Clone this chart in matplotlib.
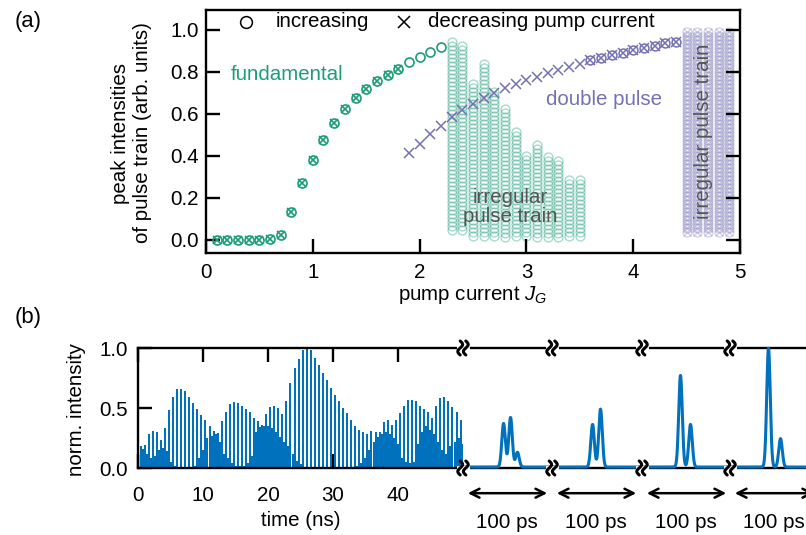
import numpy as np
import matplotlib
matplotlib.use('Agg')
import matplotlib.pyplot as plt
from matplotlib.lines import Line2D

plt.rcParams['font.family'] = ['Liberation Sans', 'DejaVu Sans']
plt.rcParams['mathtext.fontset'] = 'custom'
plt.rcParams['mathtext.it'] = 'Liberation Sans:italic'
plt.rcParams['mathtext.rm'] = 'Liberation Sans'

GREEN = '#1b9e77'
PURPLE = '#7570b3'
BLUE = '#0072BD'
GRAY = '#555555'
FS = 14.8

# ---------------- panel (a) data ----------------
fund_x = [0.1, 0.2, 0.3, 0.4, 0.5, 0.6, 0.7, 0.8, 0.9, 1.0, 1.1, 1.2, 1.3, 1.4,
          1.5, 1.6, 1.7, 1.8, 1.9, 2.0, 2.1, 2.2]
fund_inc_y = [0.0, 0.0, 0.0, 0.0, 0.0, 0.005, 0.025, 0.135, 0.27, 0.38, 0.475,
              0.555, 0.624, 0.676, 0.719, 0.757, 0.786, 0.814, 0.848, 0.871,
              0.895, 0.919]
n_fund_dec = 18  # decreasing branch covers 0.1 ... 1.8

dbl_x = [1.9, 2.0, 2.1, 2.2, 2.3, 2.4, 2.5, 2.6, 2.7, 2.8, 2.9, 3.0, 3.1, 3.2,
         3.3, 3.4, 3.5, 3.6, 3.7, 3.8, 3.9, 4.0, 4.1, 4.2, 4.3, 4.4]
dbl_dec_y = [0.414, 0.457, 0.505, 0.545, 0.585, 0.619, 0.648, 0.676, 0.70,
             0.724, 0.743, 0.760, 0.776, 0.795, 0.81, 0.824, 0.840, 0.857,
             0.868, 0.880, 0.892, 0.903, 0.914, 0.925, 0.936, 0.945]
n_dbl_inc_start = 17  # increasing branch on double pulse from 3.6

irr_g_x = [2.3, 2.4, 2.5, 2.6, 2.7, 2.8, 2.9, 3.0, 3.1, 3.2, 3.3, 3.4, 3.5]
irr_g_top = [0.943, 0.924, 0.75, 0.84, 0.705, 0.633, 0.524, 0.405, 0.462,
             0.40, 0.39, 0.30, 0.30]
irr_g_bot = [0.048, 0.048, 0.02, 0.02, 0.02, 0.015, 0.02, 0.018, 0.015,
             0.015, 0.015, 0.02, 0.02]

irr_p_x = [4.5, 4.6, 4.7, 4.8, 4.9]
irr_p_top = [1.0, 1.0, 1.0, 0.99, 0.99]
irr_p_bot = [0.04, 0.04, 0.04, 0.04, 0.04]
IRR_STEP = 0.019

# ---------------- panel (b) data ----------------
prim_h = [0.18, 0.19, 0.28, 0.31, 0.30, 0.23, 0.33, 0.48, 0.59, 0.66, 0.66,
          0.64, 0.59, 0.54, 0.49, 0.44, 0.40, 0.35, 0.31, 0.29, 0.39, 0.47,
          0.53, 0.55, 0.54, 0.52, 0.49, 0.47, 0.42, 0.39, 0.36, 0.45, 0.51,
          0.52, 0.50, 0.45, 0.56, 0.71, 0.83, 0.91, 0.98, 0.99, 0.98, 0.92,
          0.86, 0.79, 0.73, 0.67, 0.61, 0.56, 0.50, 0.46, 0.40, 0.35, 0.32,
          0.30, 0.28, 0.31, 0.30, 0.30, 0.38, 0.40, 0.36, 0.40, 0.46, 0.52,
          0.57, 0.57, 0.56, 0.52, 0.49, 0.47, 0.42, 0.52, 0.58, 0.59, 0.56,
          0.51, 0.47, 0.40]
sec_h = [0.16, 0.12, 0.08, 0.10, 0.15, 0.17, 0.14,
         0.05, 0.02, 0.01, 0.01, 0.01, 0.01, 0.02, 0.08,
         0.15, 0.25, 0.27, 0.28, 0.22,
         0.12, 0.08, 0.04, 0.02, 0.02, 0.02, 0.04, 0.10,
         0.30, 0.34, 0.35, 0.35, 0.33, 0.30, 0.26, 0.22,
         0.18, 0.12, 0.06, 0.03,
         0.01, 0.01, 0.01, 0.01, 0.01, 0.01, 0.01, 0.01, 0.01, 0.01, 0.01, 0.01, 0.01,
         0.02, 0.04, 0.08, 0.15,
         0.22, 0.26, 0.28, 0.30, 0.28, 0.25, 0.20,
         0.08, 0.05, 0.04, 0.05,
         0.20, 0.30, 0.35, 0.32, 0.28, 0.22, 0.15,
         0.12, 0.18, 0.22, 0.25, 0.20]
T0 = 0.41       # ns, first pulse
PERIOD = 0.623  # ns, round trip

seg_centers = [[50.6, 59.3, 67.9], [50.6, 60.5], [48.0, 60.5], [48.0, 63.0]]
seg_heights = [[0.363, 0.413, 0.123], [0.355, 0.483], [0.763, 0.355], [0.99, 0.237]]
PULSE_SIGMA = 2.2  # ps
SEG_SPAN = 111.0   # ps per window

# ---------------- figure ----------------
W, H = 806, 535
fig = plt.figure(figsize=(W / 100, H / 100), dpi=100)


def fx(px):
    return px / W


def fy(py):
    return (H - py) / H


# ---- panel (a)
axa = fig.add_axes([fx(206), fy(253), (740 - 206) / W, (253 - 10) / H])
axa.set_xlim(0, 5)
axa.set_ylim(-0.062, 1.095)

# irregular regions
for x, top, bot in zip(irr_g_x, irr_g_top, irr_g_bot):
    ys = np.arange(bot, top + 1e-9, IRR_STEP)
    axa.plot(np.full_like(ys, x), ys, 'o', ms=6.4, mfc='none', mec=GREEN,
             mew=1.0, alpha=0.38, zorder=1)
for x, top, bot in zip(irr_p_x, irr_p_top, irr_p_bot):
    ys = np.arange(bot, top + 1e-9, IRR_STEP)
    axa.plot(np.full_like(ys, x), ys, 'o', ms=6.4, mfc='none', mec=PURPLE,
             mew=1.0, alpha=0.3, zorder=1)
    axa.plot(np.full_like(ys, x), ys, 'x', ms=6.4, mec=PURPLE,
             mew=1.0, alpha=0.3, zorder=1)

# fundamental branch
axa.plot(fund_x, fund_inc_y, 'o', ms=6.5, mfc='none', mec=GREEN, mew=1.2, zorder=3)
axa.plot(fund_x[:n_fund_dec], fund_inc_y[:n_fund_dec], 'x', ms=5.3, mec=GREEN,
         mew=1.2, zorder=3)
# double pulse branch
axa.plot(dbl_x, dbl_dec_y, 'x', ms=6.6, mec=PURPLE, mew=1.1, zorder=3)
axa.plot(dbl_x[n_dbl_inc_start:], dbl_dec_y[n_dbl_inc_start:], 'o', ms=6.4,
         mfc='none', mec=PURPLE, mew=1.1, zorder=3)

axa.set_xticks([0, 1, 2, 3, 4, 5])
axa.set_yticks([0.0, 0.2, 0.4, 0.6, 0.8, 1.0])
axa.set_yticklabels(['0.0', '0.2', '0.4', '0.6', '0.8', '1.0'])
axa.tick_params(axis='both', direction='in', length=10, width=1.7,
                labelsize=FS, colors='black')
axa.tick_params(axis='y', right=True, left=True, pad=5)
axa.tick_params(axis='x', top=False, bottom=True, pad=7)
for s in axa.spines.values():
    s.set_linewidth(1.7)

axa.set_xlabel('pump current $J_G$', fontsize=FS, labelpad=2)
fig.text(fx(131), fy(133), 'peak intensities\nof pulse train (arb. units)',
         rotation=90, ha='center', va='center', fontsize=FS, linespacing=1.2)

# legend
axa.plot([0.075], [0.951], 'o', ms=8.5, mfc='none', mec='black', mew=1.1,
         transform=axa.transAxes, clip_on=False)
axa.text(0.131, 0.951, 'increasing', transform=axa.transAxes, fontsize=FS,
         ha='left', va='center')
axa.plot([0.371], [0.951], 'x', ms=8.5, mec='black', mew=1.1,
         transform=axa.transAxes, clip_on=False)
axa.text(0.416, 0.951, 'decreasing pump current', transform=axa.transAxes,
         fontsize=FS, ha='left', va='center')

axa.text(0.235, 0.786, 'fundamental', color=GREEN, fontsize=FS, ha='left', va='center')
axa.text(3.18, 0.667, 'double pulse', color=PURPLE, fontsize=FS, ha='left', va='center')
axa.text(2.85, 0.157, 'irregular\npulse train', color=GRAY, fontsize=FS,
         ha='center', va='center', linespacing=0.95)
axa.text(4.66, 0.52, 'irregular pulse train', color=GRAY, fontsize=FS,
         ha='center', va='center', rotation=90)

fig.text(fx(28), fy(22), '(a)', fontsize=FS + 1, ha='center', va='center')
fig.text(fx(28), fy(317), '(b)', fontsize=FS + 1, ha='center', va='center')

# ---- panel (b) time trace
axb = fig.add_axes([fx(138), fy(468), (463 - 138) / W, 120 / H])
t = T0 + PERIOD * np.arange(len(prim_h))
axb.vlines(t, 0, prim_h, color=BLUE, lw=1.15, antialiased=False)
axb.vlines(t + PERIOD / 2, 0, sec_h, color=BLUE, lw=1.15, antialiased=False)
axb.set_xlim(0, 50)
axb.set_ylim(0, 1)
axb.set_xticks([0, 10, 20, 30, 40])
axb.set_yticks([0.0, 0.5, 1.0])
axb.set_yticklabels(['0.0', '0.5', '1.0'])
axb.tick_params(axis='both', direction='in', length=10, width=1.7,
                labelsize=FS)
axb.tick_params(axis='x', top=True, bottom=True, pad=13)
axb.tick_params(axis='y', left=True, right=False, pad=7)
axb.spines['right'].set_visible(False)
for s in axb.spines.values():
    s.set_linewidth(1.7)
axb.set_xlabel('time (ns)', fontsize=FS, labelpad=4)
fig.text(fx(76), fy(410), 'norm. intensity', rotation=90, ha='center',
         va='center', fontsize=FS)

# ---- zoomed pulse windows
seg_left = [463, 552, 642, 730]
tt = np.linspace(0, SEG_SPAN, 1200)
for i, left in enumerate(seg_left):
    ax = fig.add_axes([fx(left), fy(468), 89 / W, 120 / H])
    ax.set_xlim(0, SEG_SPAN)
    ax.set_ylim(0, 1)
    ax.spines['left'].set_visible(False)
    ax.spines['right'].set_visible(False)
    for s in ('top', 'bottom'):
        ax.spines[s].set_linewidth(1.7)
    ax.set_xticks([])
    ax.set_yticks([])
    ax.patch.set_alpha(0)
    yy = np.zeros_like(tt)
    for c, h in zip(seg_centers[i], seg_heights[i]):
        yy += h * np.exp(-(tt - c) ** 2 / (2 * PULSE_SIGMA ** 2))
    ax.plot(tt, yy + 0.008, color=BLUE, lw=2.2, clip_on=False, zorder=5)
    ax.annotate('', xy=(6, -0.21), xytext=(105, -0.21),
                xycoords=ax.get_xaxis_transform(),
                textcoords=ax.get_xaxis_transform(),
                arrowprops=dict(arrowstyle='<->', lw=1.8, color='black',
                                mutation_scale=16, shrinkA=0, shrinkB=0),
                annotation_clip=False)
    ax.text(55, -0.45, '100 ps', transform=ax.get_xaxis_transform(),
            fontsize=FS, ha='center', va='center', clip_on=False)

# break marks
s = np.linspace(-1, 1, 40)
for x0 in seg_left:
    for y0 in (348, 468):
        fig.add_artist(Line2D([fx(x0 - 4), fx(x0 + 4)], [fy(y0), fy(y0)],
                              color='white', lw=3.5, zorder=20))
        for k in (-2.8, 2.8):
            xs = x0 + k - 2.4 * np.sin(np.pi * s)
            ys = y0 + 7.0 * s
            fig.add_artist(Line2D(fx(xs), fy(ys), color='black', lw=2.2,
                                  zorder=21, solid_capstyle='round'))

fig.savefig('out.png', dpi=100)
